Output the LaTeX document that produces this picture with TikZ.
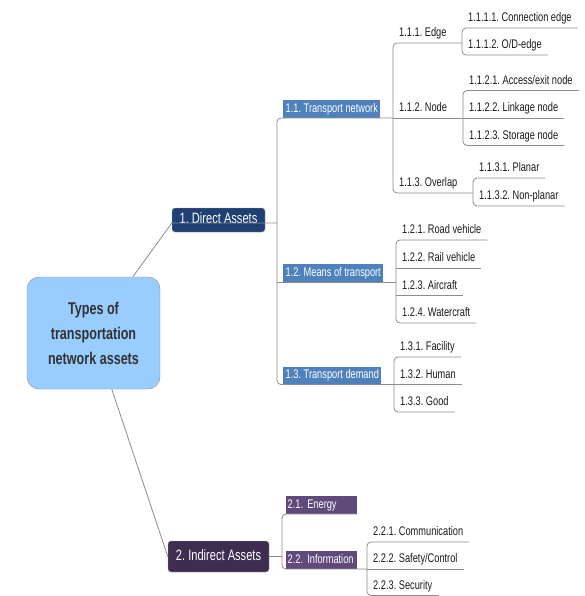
\documentclass[tikz,border=0pt]{standalone}
\usepackage{fontspec}
\setmainfont{Liberation Sans}
\newfontfamily\nrw[FakeStretch=0.74]{Liberation Sans}
\frenchspacing
\definecolor{rootblue}{HTML}{99CCFF}
\definecolor{dablue}{HTML}{1E4072}
\definecolor{iapurple}{HTML}{3F2D51}
\definecolor{tagblue}{HTML}{4F81BD}
\definecolor{tagpurple}{HTML}{604A7B}
\definecolor{linegray}{HTML}{8C8C8C}
\definecolor{leafc}{HTML}{1A1A1A}
\tikzset{
  conn/.style={draw=linegray, line width=0.8pt},
  leaf/.style={anchor=south west, inner xsep=6pt, inner ysep=3.5pt, text height=9pt, text depth=2.5pt,
    font=\nrw\fontsize{12.5}{14}\selectfont, text=leafc},
  tag/.style={leaf, fill=tagblue, text=white, inner xsep=2.5pt, inner ysep=3pt},
  ptag/.style={tag, fill=tagpurple, text width=68pt, inner xsep=1.5pt},
  asset/.style={draw=gray!70, rounded corners=3pt, text=white, font=\nrw\fontsize{15}{17}\selectfont,
    minimum width=93pt, text height=10.5pt, text depth=3pt}
}
\begin{document}
\begin{tikzpicture}[x=1pt,y=-1pt]
	\useasboundingbox (0,0) rectangle (584,596);
	% root and main branches
	\node[draw=linegray, fill=rootblue, rounded corners=12pt, minimum width=133pt, minimum height=112pt,
	  align=center, text=black!80, font=\nrw\bfseries\fontsize{17}{25}\selectfont] (root) at (93.5,333)
	  {Types of\\transportation\\network assets};
	\node[asset, fill=dablue, minimum height=24pt] (da) at (218.5,220) {1. Direct Assets};
	\node[asset, fill=iapurple, minimum height=31pt, minimum width=101pt] (ia) at (218.5,556.5) {2. Indirect Assets};
	\coordinate (dabar) at (277,223);
	\coordinate (iabar) at (282,556.5);
	% 1.x
	\node[tag] (tn) at (283,118) {1.1. Transport network};
	\node[tag] (mt) at (283,282) {1.2. Means of transport};
	\node[tag] (td) at (283,384.5) {1.3. Transport demand};
	% 1.1.x
	\node[leaf] (ed) at (393,43) {1.1.1. Edge};
	\node[leaf] (nd) at (393,118) {1.1.2. Node};
	\node[leaf] (ov) at (393,193) {1.1.3. Overlap};
	\node[leaf] (ce) at (462,28) {1.1.1.1. Connection edge};
	\node[leaf] (od) at (462,55) {1.1.1.2. O/D-edge};
	\node[leaf] (ae) at (463,90.5) {1.1.2.1. Access/exit node};
	\node[leaf] (lk) at (463,118) {1.1.2.2. Linkage node};
	\node[leaf] (sn) at (463,145.5) {1.1.2.3. Storage node};
	\node[leaf] (pl) at (473,178) {1.1.3.1. Planar};
	\node[leaf] (np) at (473,206) {1.1.3.2. Non-planar};
	% 1.2.x and 1.3.x
	\node[leaf] (rv) at (396,240) {1.2.1. Road vehicle};
	\node[leaf] (rl) at (396,268) {1.2.2. Rail vehicle};
	\node[leaf] (ac) at (396,295.5) {1.2.3. Aircraft};
	\node[leaf] (wc) at (396,323) {1.2.4. Watercraft};
	\node[leaf] (fa) at (394,357) {1.3.1. Facility};
	\node[leaf] (hu) at (394,384.5) {1.3.2. Human};
	\node[leaf] (gd) at (394,412) {1.3.3. Good};
	% 2.x
	\node[ptag] (en) at (286,514) {2.1. Energy};
	\node[ptag] (in) at (286,569) {2.2. Information};
	\node[leaf] (cm) at (367,542) {2.2.1. Communication};
	\node[leaf] (sc) at (367,569) {2.2.2. Safety/Control};
	\node[leaf] (se) at (367,595.5) {2.2.3. Security};
	% connectors
	\draw[conn] (root.55) -- ([yshift=-3pt]da.west) -- (dabar);
	\draw[conn] (root.-72) -- (ia.west);
	\draw[conn] (ia.east) -- (iabar);
	\draw[conn, rounded corners=4pt] (nd.south west) -- (tn.south west -| dabar) -- (td.south west -| dabar) -- (td.south west -| fa.south west);
	\draw[conn] (mt.south west -| dabar) -- (mt.south west -| rv.south west);
	\draw[conn, rounded corners=4pt] (ed.south west -| ce.south west) -- (ed.south west) -- (ov.south west) -- (ov.south west -| pl.south west);
	\draw[conn] (nd.south west) -- (nd.south west -| ae.south west);
	\draw[conn, rounded corners=4pt] (ce.south east) -- (ce.south west) -- (od.south west) -- (od.south east);
	\draw[conn, rounded corners=4pt] (ae.south east) -- (ae.south west) -- (sn.south west) -- (sn.south east);
	\draw[conn] (lk.south west) -- (lk.south east);
	\draw[conn, rounded corners=4pt] (pl.south east) -- (pl.south west) -- (np.south west) -- (np.south east);
	\draw[conn, rounded corners=4pt] (rv.south east) -- (rv.south west) -- (wc.south west) -- (wc.south east);
	\draw[conn] (rl.south west) -- (rl.south east);
	\draw[conn] (ac.south west) -- (ac.south east);
	\draw[conn, rounded corners=4pt] (fa.south east) -- (fa.south west) -- (gd.south west) -- (gd.south east);
	\draw[conn] (hu.south west) -- (hu.south east);
	\draw[conn, rounded corners=4pt] (en.south east) -- (en.south west -| iabar) -- (in.south west -| iabar) -- (in.south west -| cm.south west);
	\draw[conn, rounded corners=4pt] (cm.south east) -- (cm.south west) -- (se.south west) -- (se.south east);
	\draw[conn] (sc.south west) -- (sc.south east);
\end{tikzpicture}
\end{document}
